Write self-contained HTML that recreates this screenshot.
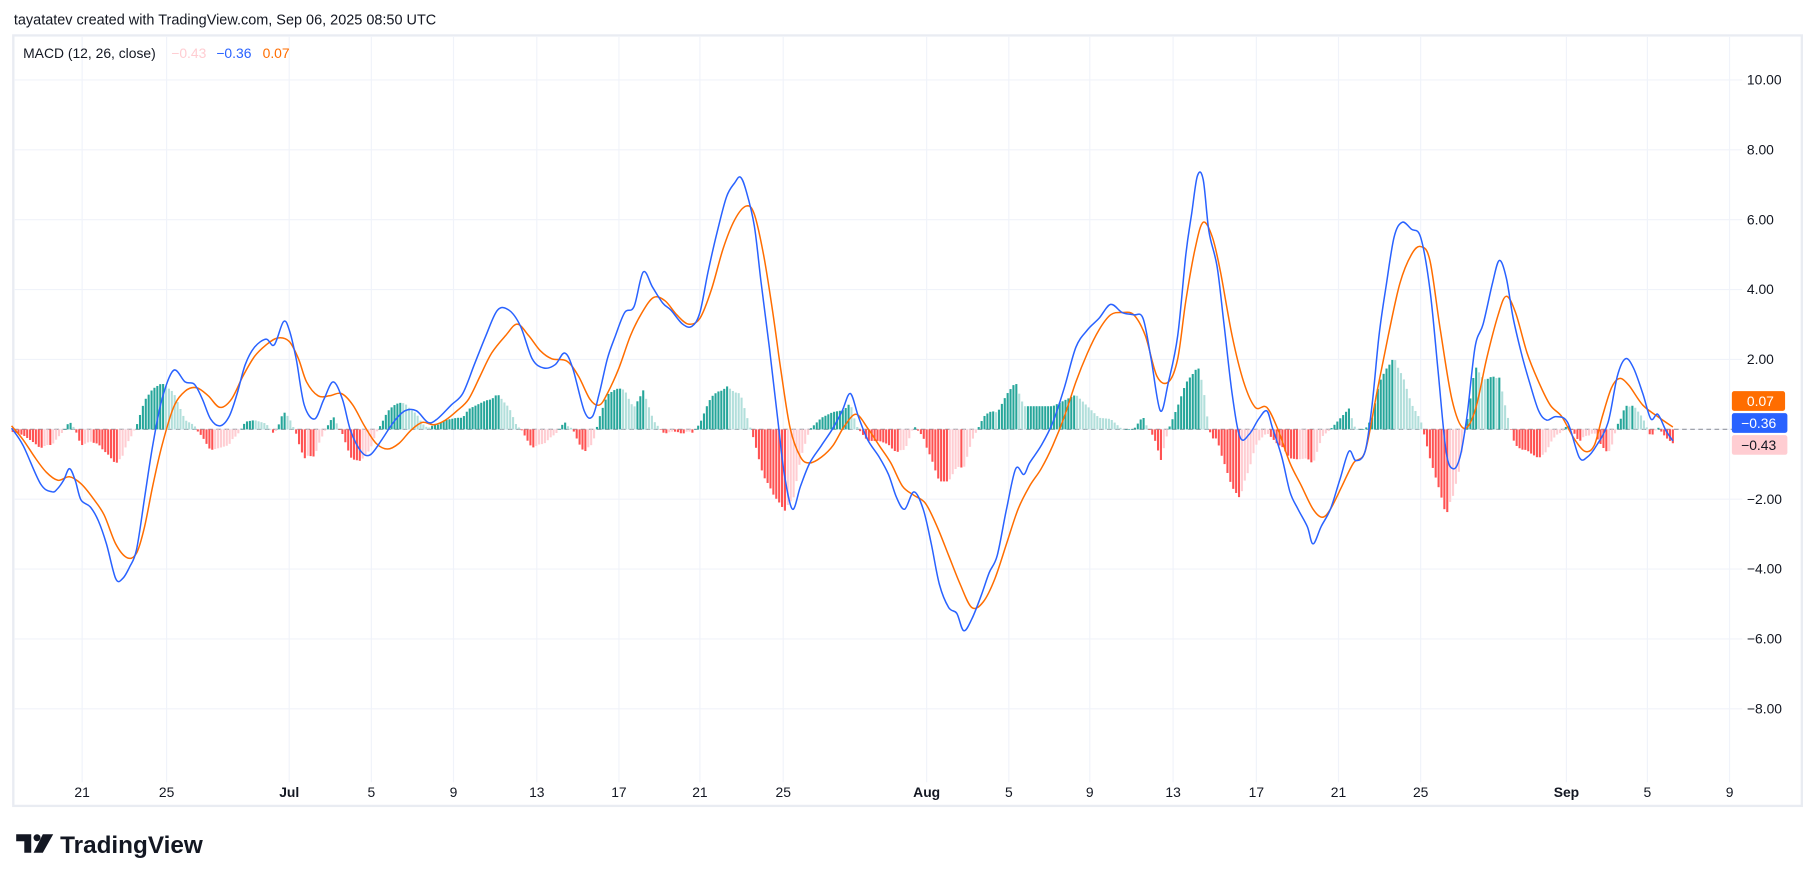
<!DOCTYPE html>
<html><head><meta charset="utf-8"><style>
html,body{margin:0;padding:0;background:#fff;width:1814px;height:883px;overflow:hidden}
svg{display:block}
text{font-family:"Liberation Sans","DejaVu Sans",sans-serif}
</style></head><body>
<svg id="s" width="1814" height="883" viewBox="0 0 1568 763" xmlns="http://www.w3.org/2000/svg">
<rect x="0" y="0" width="1568" height="763" fill="#fff"/>
<text x="12" y="21" font-size="12.5" fill="#131722">tayatatev created with TradingView.com, Sep 06, 2025 08:50 UTC</text>
<rect x="11.5" y="30.5" width="1546" height="666" fill="#fff" stroke="#e9ecf2" stroke-width="2"/>
<g id="grid"></g>
<line x1="12" y1="371" x2="1506" y2="371" stroke="#9598a1" stroke-width="1" stroke-dasharray="4,3"/>
<g id="hist"></g>
<path id="orange" fill="none" stroke="#ff6d00" stroke-width="1.3"/>
<path id="blue" fill="none" stroke="#2962ff" stroke-width="1.3"/>
<text x="20" y="50" font-size="12" fill="#131722">MACD (12, 26, close)</text>
<text x="148" y="50" font-size="12" fill="#ffcdd2">−0.43</text>
<text x="187" y="50" font-size="12" fill="#2962ff">−0.36</text>
<text x="227" y="50" font-size="12" fill="#ff6d00">0.07</text>
<g id="ylab" font-size="12" fill="#131722"></g>
<rect x="1497" y="338" width="46" height="17" fill="#ff6d00" rx="2"/>
<text x="1510" y="351" font-size="12" fill="#fff">0.07</text>
<rect x="1497" y="357" width="48" height="17" fill="#2962ff" rx="2"/>
<text x="1505" y="370" font-size="12" fill="#fff">−0.36</text>
<rect x="1497" y="376" width="48" height="17" fill="#ffcdd2" rx="2"/>
<text x="1505" y="389" font-size="12" fill="#131722">−0.43</text>
<g id="xlab" font-size="12" fill="#131722" text-anchor="middle"></g>
<g transform="translate(14,721)">
<path d="M0 0H13V16H7V6H0Z" fill="#131722"/>
<circle cx="18" cy="3" r="3" fill="#131722"/>
<path d="M23 0H32L23 16H15Z" fill="#131722"/>
</g>
<text x="52" y="737" font-size="21" font-weight="bold" fill="#131722">TradingView</text>
</svg>
<script>
var NS="http://www.w3.org/2000/svg";
function el(p,t,a,txt){var e=document.createElementNS(NS,t);for(var k in a)e.setAttribute(k,a[k]);if(txt)e.textContent=txt;document.getElementById(p).appendChild(e);return e;}
for(var k=-8;k<=10;k+=2){var y=371-30.2*k;el("grid","line",{x1:12,x2:1506,y1:y,y2:y,stroke:"#f0f3fa","stroke-width":1});
 if(k!=0)el("ylab","text",{x:1510,y:y+4},(k<0?"−":"")+Math.abs(k).toFixed(2));}
var d=[["21",71],["25",144],["Jul",250,1],["5",321],["9",392],["13",464],["17",535],["21",605],["25",677],["Aug",801,1],["5",872],["9",942],["13",1014],["17",1086],["21",1157],["25",1228],["Sep",1354,1],["5",1424],["9",1495]];
d.forEach(function(a){el("grid","line",{x1:a[1],x2:a[1],y1:31,y2:676,stroke:"#f0f3fa","stroke-width":1});
 var t=el("xlab","text",{x:a[1],y:689},a[0]);if(a[2])t.setAttribute("font-weight","bold");});
var B=[10,370,20,385,35,418,45,425,50,422,55,415,60,405,65,415,70,432,78,438,85,450,92,470,100,500,106,500,112,490,118,475,125,430,132,385,140,345,150,320,160,330,168,332,175,345,182,362,190,368,198,360,205,340,212,315,220,300,230,293,237,298,245,278,250,285,256,310,263,350,272,362,280,345,288,330,296,345,303,372,312,390,320,393,330,380,340,365,350,355,360,355,370,365,378,362,390,350,400,340,410,315,420,290,430,268,440,268,450,282,460,310,470,318,480,315,488,305,495,318,505,355,512,360,518,340,525,310,532,290,540,270,548,265,556,235,564,248,573,262,580,268,590,280,598,282,605,270,612,235,620,200,628,170,635,158,640,153,645,165,652,195,658,245,665,300,672,360,678,410,685,440,692,420,700,400,710,385,720,370,728,355,735,340,742,360,750,380,760,395,768,410,775,430,782,440,790,425,798,440,805,470,812,505,820,525,827,530,833,545,840,535,848,515,855,495,862,480,870,440,878,405,885,410,890,400,900,385,910,365,920,335,930,300,940,285,950,275,960,263,970,270,980,272,988,275,995,310,1003,355,1010,330,1018,290,1025,220,1030,185,1035,152,1040,155,1045,200,1052,230,1058,280,1065,340,1072,378,1080,375,1088,362,1095,355,1100,370,1108,395,1115,425,1122,440,1130,455,1135,470,1142,455,1150,440,1158,415,1166,390,1172,398,1180,390,1186,350,1192,290,1198,248,1205,205,1212,192,1220,198,1228,205,1236,250,1243,320,1250,390,1256,405,1262,395,1268,360,1275,300,1282,280,1290,245,1296,225,1302,240,1308,275,1315,305,1322,330,1330,355,1337,363,1345,360,1355,365,1365,395,1372,395,1380,385,1390,365,1398,325,1405,310,1412,318,1420,340,1427,362,1433,358,1440,372,1446,381];
var O=[10,368,20,380,30,395,40,408,50,415,60,412,70,418,80,430,90,445,100,470,110,482,118,478,125,455,132,420,140,385,150,352,160,338,170,335,180,342,190,352,200,345,210,325,220,308,230,298,240,292,250,295,258,310,265,330,275,342,285,342,295,340,305,350,315,368,325,383,335,388,345,383,355,372,365,365,375,367,385,363,395,355,405,345,415,325,425,305,437,290,447,280,457,290,467,303,477,310,490,312,500,325,510,345,518,350,525,340,535,318,545,290,555,270,565,257,575,260,585,272,595,280,605,275,615,250,625,215,635,190,645,178,652,185,660,220,668,270,675,320,683,370,692,395,700,400,710,395,720,385,730,368,740,358,750,370,760,385,770,400,780,420,790,428,800,435,810,455,820,480,830,505,840,525,850,520,860,500,870,470,880,440,890,420,900,405,910,385,920,360,930,330,940,305,950,285,960,272,970,270,980,272,990,290,1000,325,1010,330,1018,310,1025,260,1033,215,1040,192,1048,205,1055,235,1065,290,1075,330,1085,352,1095,352,1105,372,1115,400,1125,420,1135,440,1143,447,1150,440,1160,420,1170,400,1180,390,1190,340,1200,290,1210,245,1220,220,1228,213,1236,225,1245,285,1255,345,1265,370,1275,355,1285,310,1295,272,1302,256,1310,270,1320,305,1330,330,1340,350,1350,360,1360,378,1370,390,1378,385,1385,360,1393,335,1400,327,1408,333,1420,350,1433,360,1446,369];
function smooth(a){var p=[];for(var i=0;i<a.length;i+=2)p.push([a[i],a[i+1]]);
 var s="M"+p[0][0]+","+p[0][1];
 for(var i=0;i<p.length-1;i++){var p0=p[Math.max(0,i-1)],p1=p[i],p2=p[i+1],p3=p[Math.min(p.length-1,i+2)];
  var c1x=p1[0]+(p2[0]-p0[0])/6,c1y=p1[1]+(p2[1]-p0[1])/6,c2x=p2[0]-(p3[0]-p1[0])/6,c2y=p2[1]-(p3[1]-p1[1])/6;
  s+=" C"+c1x.toFixed(1)+","+c1y.toFixed(1)+" "+c2x.toFixed(1)+","+c2y.toFixed(1)+" "+p2[0]+","+p2[1];}
 return s;}
document.getElementById("blue").setAttribute("d",smooth(B));
document.getElementById("orange").setAttribute("d",smooth(O));
function at(a,x){for(var i=0;i<a.length-2;i+=2){if(x<=a[i+2]){var t=(x-a[i])/(a[i+2]-a[i]);return a[i+1]+t*(a[i+3]-a[i+1]);}}return a[a.length-1];}
var prev=0;
for(var x=11;x<=1446;x+=2.5){var h=(at(O,x)-at(B,x))*1.0;var c;
 if(h>=0)c=h>=prev?"#26a69a":"#b2dfdb";else c=h<=prev?"#ff5252":"#ffcdd2";prev=h;
 var y=h>=0?371-h:371;el("hist","rect",{x:x-0.9,y:y,width:1.8,height:Math.max(Math.abs(h),0.5),fill:c});}
</script>
</body></html>
